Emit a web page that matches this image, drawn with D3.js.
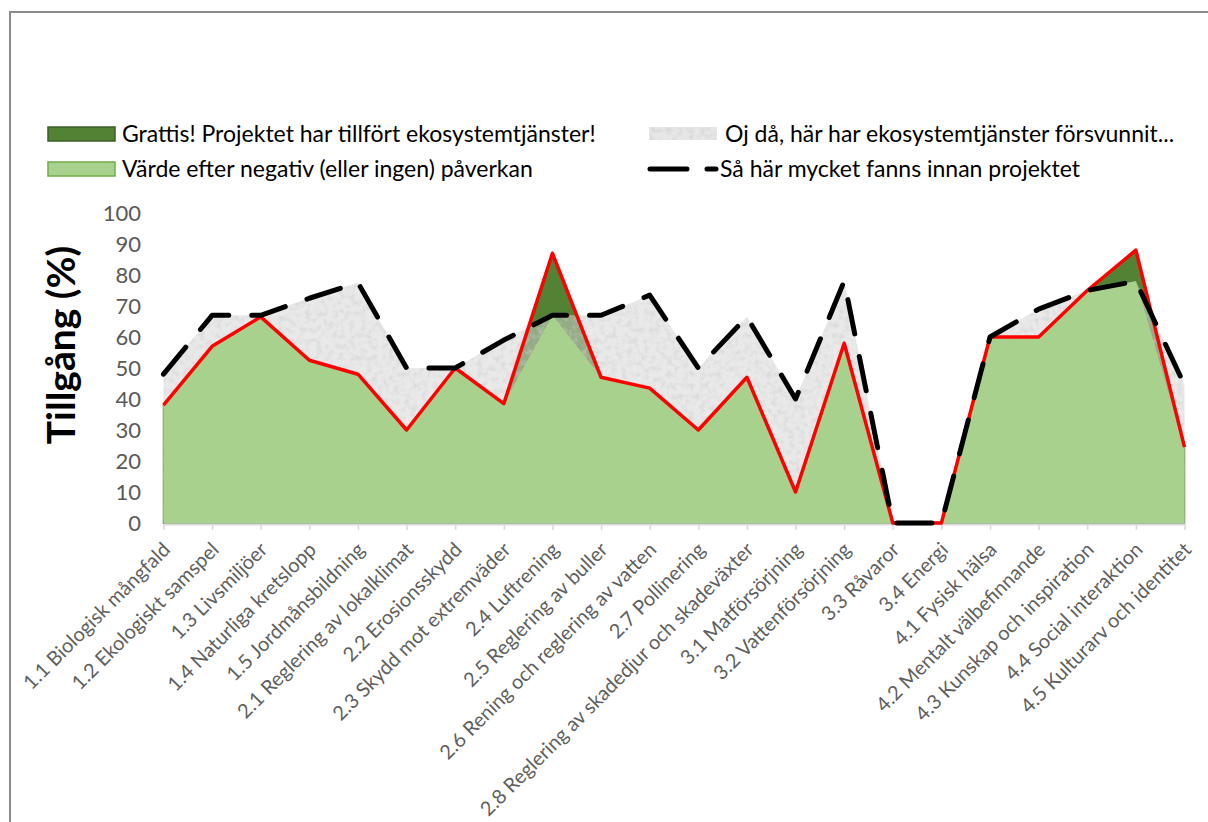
<!DOCTYPE html>
<html lang="sv">
<head>
    <meta charset="UTF-8">
    <title>Ekosystemtjänster – tillgång</title>
    <style>
        body { margin: 0; background: #fff; }
        svg { display: block; font-family: Lato, "Open Sans", sans-serif; }
    </style>
    <script src="https://d3js.org/d3.v7.min.js"></script>
</head>
<body>
    <div id="chart"></div>

    <script>
        // Kategorier och värden (avlästa från originaldiagrammet)
        const categories = [
            "1.1 Biologisk mångfald", "1.2 Ekologiskt samspel", "1.3 Livsmiljöer",
            "1.4 Naturliga kretslopp", "1.5 Jordmånsbildning", "2.1 Reglering av lokalklimat",
            "2.2 Erosionsskydd", "2.3 Skydd mot extremväder", "2.4 Luftrening",
            "2.5 Reglering av buller", "2.6 Rening och reglering av vatten", "2.7 Pollinering",
            "2.8 Reglering av skadedjur och skadeväxter", "3.1 Matförsörjning", "3.2 Vattenförsörjning",
            "3.3 Råvaror", "3.4 Energi", "4.1 Fysisk hälsa", "4.2 Mentalt välbefinnande",
            "4.3 Kunskap och inspiration", "4.4 Social interaktion", "4.5 Kulturarv och identitet"
        ];
        // Så här mycket fanns innan projektet
        const before = [48, 67, 67, 72.5, 77.5, 50, 50, 59, 67, 67, 73.5, 50, 66.5, 40, 78, 0, 0, 60, 69, 75, 78, 44.5];
        // Värde efter projektet
        const after = [38, 57, 66.5, 52.5, 48, 30, 50, 38.5, 87, 47, 43.5, 30, 47, 10, 58, 0, 0, 60, 60, 75, 88, 24.5];
        // Värde efter negativ (eller ingen) påverkan
        const remaining = [38, 57, 66.5, 52.5, 48, 30, 50, 38.5, 67, 47, 43.5, 30, 47, 10, 58, 0, 0, 60, 60, 75, 78, 24.5];

        const yTicks = [0, 10, 20, 30, 40, 50, 60, 70, 80, 90, 100];
        const yTitle = "Tillgång (%)";
        const legendLabels = [
            "Grattis! Projektet har tillfört ekosystemtjänster!",
            "Oj då, här har ekosystemtjänster försvunnit...",
            "Värde efter negativ (eller ingen) påverkan",
            "Så här mycket fanns innan projektet"
        ];

        const width = 1208, height = 822;
        const darkGreen = "#548235", lightGreen = "#a9d18e", red = "#ff0000";

        const svg = d3.select("#chart").append("svg")
            .attr("width", width)
            .attr("height", height);

        // grey mottled texture
        const defs = svg.append("defs");
        const f = defs.append("filter").attr("id", "speckle")
            .attr("x", 0).attr("y", 0).attr("width", 1).attr("height", 1);
        f.append("feTurbulence").attr("type", "fractalNoise")
            .attr("baseFrequency", 0.18).attr("numOctaves", 4).attr("seed", 7).attr("result", "noise");
        f.append("feColorMatrix").attr("in", "noise").attr("type", "matrix")
            .attr("values", "0 0 0 0 0.62  0 0 0 0 0.62  0 0 0 0 0.62  0 0 0 2.6 -1.1")
            .attr("result", "dots");
        f.append("feComposite").attr("in", "dots").attr("in2", "SourceGraphic")
            .attr("operator", "in").attr("result", "clipped");
        const merge = f.append("feMerge");
        merge.append("feMergeNode").attr("in", "SourceGraphic");
        merge.append("feMergeNode").attr("in", "clipped");

        // frame
        svg.append("rect")
            .attr("x", 10).attr("y", 12)
            .attr("width", width + 20).attr("height", height + 20)
            .attr("fill", "#fff")
            .attr("stroke", "#8c8c8c")
            .attr("stroke-width", 2);

        const x = d3.scalePoint().domain(categories).range([163.5, 1184.5]);
        const y = d3.scaleLinear().domain([0, 100]).range([523, 213]);

        const rows = categories.map((c, i) => ({
            cat: c, before: before[i], after: after[i], remaining: remaining[i]
        }));

        const area = key => d3.area()
            .x(d => x(d.cat))
            .y0(y(0))
            .y1(d => y(d[key]));
        const line = key => d3.line()
            .x(d => x(d.cat))
            .y(d => y(d[key]));

        // areas: gained (dark), lost (grey), remaining (light)
        svg.append("path").datum(rows)
            .attr("d", area("after"))
            .attr("fill", darkGreen)
            .attr("stroke", darkGreen)
            .attr("stroke-width", 1.5);

        svg.append("path").datum(rows)
            .attr("d", area("before"))
            .attr("fill", "rgb(212,212,212)")
            .attr("fill-opacity", 0.5)
            .attr("filter", "url(#speckle)");

        svg.append("path").datum(rows)
            .attr("d", area("remaining"))
            .attr("fill", lightGreen);

        // x axis
        const xAxis = svg.append("g")
            .attr("transform", `translate(0,${y(0) + 1})`)
            .call(d3.axisBottom(x).tickSize(6).tickSizeOuter(0).tickFormat(""));
        xAxis.select(".domain").attr("stroke", "#d9d9d9").attr("stroke-width", 2);
        xAxis.selectAll(".tick line").attr("stroke", "#d9d9d9").attr("stroke-width", 1.5);

        svg.append("g").selectAll("text")
            .data(categories)
            .enter().append("text")
            .attr("transform", d => `translate(${x(d) + 3},${546}) rotate(-45)`)
            .attr("text-anchor", "end")
            .attr("dy", "0.35em")
            .attr("fill", "#5f5f5f")
            .style("font-size", "20px")
            .text(d => d);

        // y axis (labels only)
        svg.append("g").selectAll("text")
            .data(yTicks)
            .enter().append("text")
            .attr("x", 141)
            .attr("y", d => y(d))
            .attr("dy", "0.35em")
            .attr("text-anchor", "end")
            .attr("fill", "#595959")
            .style("font-size", "22px")
            .text(d => d);

        svg.append("text")
            .attr("transform", "translate(61,345) rotate(-90)")
            .attr("text-anchor", "middle")
            .attr("dy", "0.35em")
            .style("font-size", "39px")
            .style("font-weight", "bold")
            .attr("fill", "#000")
            .text(yTitle);

        // lines
        svg.append("path").datum(rows)
            .attr("d", line("after"))
            .attr("fill", "none")
            .attr("stroke", red)
            .attr("stroke-width", 3.5)
            .attr("stroke-linejoin", "round");

        svg.append("path").datum(rows)
            .attr("d", line("before"))
            .attr("fill", "none")
            .attr("stroke", "#000")
            .attr("stroke-width", 5)
            .attr("stroke-linecap", "round")
            .attr("stroke-linejoin", "round")
            .attr("stroke-dasharray", "35,23");

        // legend
        const legend = svg.append("g").style("font-size", "23px").attr("fill", "#000");

        legend.append("rect").attr("x", 48).attr("y", 127).attr("width", 67).attr("height", 14)
            .attr("fill", darkGreen).attr("stroke", "#3b5e25").attr("stroke-width", 1.5);
        legend.append("text").attr("x", 122).attr("y", 134).attr("dy", "0.35em").text(legendLabels[0]);

        legend.append("rect").attr("x", 649).attr("y", 127).attr("width", 68).attr("height", 13)
            .attr("fill", "rgb(212,212,212)").attr("fill-opacity", 0.55).attr("filter", "url(#speckle)");
        legend.append("text").attr("x", 725).attr("y", 134).attr("dy", "0.35em").text(legendLabels[1]);

        legend.append("rect").attr("x", 48).attr("y", 162).attr("width", 67).attr("height", 14)
            .attr("fill", lightGreen).attr("stroke", "#70ad47").attr("stroke-width", 1.5);
        legend.append("text").attr("x", 122).attr("y", 169).attr("dy", "0.35em").text(legendLabels[2]);

        legend.append("line").attr("x1", 650).attr("x2", 716).attr("y1", 169).attr("y2", 169)
            .attr("stroke", "#000").attr("stroke-width", 5)
            .attr("stroke-linecap", "round").attr("stroke-dasharray", "37,20");
        legend.append("text").attr("x", 720).attr("y", 169).attr("dy", "0.35em").text(legendLabels[3]);
    </script>
</body>
</html>
